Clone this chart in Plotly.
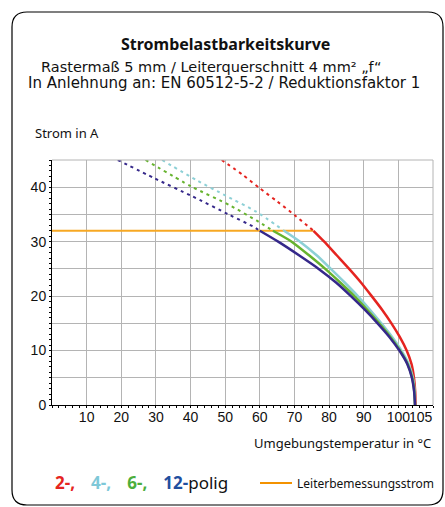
import plotly.graph_objects as go

# ---------------- data ----------------
# 2-polig (red): current vs ambient temperature
temp_2 = [49, 55, 60, 65, 70, 75.5, 78.6, 82.2, 85.8, 89.2, 92.3, 95.3, 98, 100.4, 102.4, 103.8, 104.5, 104.85, 105]
cur_2 = [45, 42.3, 39.8, 37.4, 34.9, 32, 30, 27.5, 25, 22.5, 20, 17.5, 15, 12.5, 10, 7.5, 5, 2.5, 0]

# 4-polig (light blue)
temp_4 = [31.8, 41.7, 50.3, 59, 67, 71.6, 76.4, 80.5, 84.5, 88.3, 91.8, 95.1, 98.2, 100.9, 103, 104.2, 104.7, 104.85]
cur_4 = [45, 41.3, 38.4, 35.5, 32, 30, 27.5, 25, 22.5, 20, 17.5, 15, 12.5, 10, 7.5, 5, 2.5, 0]

# 6-polig (green)
temp_6 = [27, 40.3, 51.3, 59, 63.8, 69.2, 74.2, 78.9, 83.2, 87.3, 91, 94.5, 97.7, 100.5, 102.7, 104, 104.6, 104.8]
cur_6 = [45, 40.1, 36.7, 33.9, 32, 30, 27.5, 25, 22.5, 20, 17.5, 15, 12.5, 10, 7.5, 5, 2.5, 0]

# 12-polig (dark blue)
temp_12 = [19, 29.7, 40.3, 51.3, 58, 60, 65.3, 71.3, 77, 82, 86.3, 90.3, 94, 97.4, 100.3, 102.6, 103.9, 104.55, 104.8]
cur_12 = [45, 41.6, 38.4, 34.9, 32.8, 32, 30, 27.5, 25, 22.5, 20, 17.5, 15, 12.5, 10, 7.5, 5, 2.5, 0]

rated_current = 32
rated_temp = [0, 75.5]

x_tick_vals = [10, 20, 30, 40, 50, 60, 70, 80, 90, 100]
x_tick_text = ["10", "20", "30", "40", "50", "60", "70", "80", "90", "100"]
x_end_val = [105]
x_end_text = ["105"]
y_tick_vals = [0, 10, 20, 30, 40]

series = [
    ("2-polig", temp_2, cur_2, "#e52420"),
    ("4-polig", temp_4, cur_4, "#8dd0d6"),
    ("6-polig", temp_6, cur_6, "#66b32e"),
    ("12-polig", temp_12, cur_12, "#35288a"),
]
orange = "#f7a823"

# ---------------- geometry ----------------
W, H = 445, 507
L, R, T, B = 52, 12, 160, 102
PW, PH = W - L - R, H - T - B


def px2x(px):
    return (px - L) / PW


def py2y(py):
    return (H - B - py) / PH


fig = go.Figure()

fig.add_trace(go.Scatter(x=rated_temp, y=[rated_current] * len(rated_temp), mode="lines",
                         line=dict(color=orange, width=2), showlegend=False, hoverinfo="skip"))

for name, tx, cy, col in series:
    dash_x = [t for t, c in zip(tx, cy) if c >= rated_current]
    dash_y = [c for c in cy if c >= rated_current]
    sol_x = [t for t, c in zip(tx, cy) if c <= rated_current]
    sol_y = [c for c in cy if c <= rated_current]
    fig.add_trace(go.Scatter(x=dash_x, y=dash_y, mode="lines", name=name,
                             line=dict(color=col, width=2, dash="3px,4px", shape="spline", smoothing=0.6),
                             showlegend=False))
    fig.add_trace(go.Scatter(x=sol_x, y=sol_y, mode="lines", name=name,
                             line=dict(color=col, width=2.5, shape="spline", smoothing=0.6),
                             showlegend=False))

# dummy traces for overlay axes
fig.add_trace(go.Scatter(x=[None], y=[None], xaxis="x2", yaxis="y", showlegend=False))
fig.add_trace(go.Scatter(x=[None], y=[None], xaxis="x3", yaxis="y", showlegend=False))
fig.add_trace(go.Scatter(x=[None], y=[None], xaxis="x", yaxis="y2", showlegend=False))

grid_col = "#b4b4b4"
tick_font = dict(family="Liberation Sans, Arial", size=14, color="#111")

fig.update_layout(
    width=W, height=H,
    margin=dict(l=L, r=R, t=T, b=B),
    paper_bgcolor="white", plot_bgcolor="white",
    font=dict(family="Noto Sans", color="#111"),
    xaxis=dict(range=[0, 110], tickmode="linear", tick0=0, dtick=10, showgrid=True,
               gridcolor=grid_col, gridwidth=1, showticklabels=False,
               ticks="outside", ticklen=2, tickcolor="black",
               minor=dict(tickmode="linear", tick0=0, dtick=2, ticks="outside", ticklen=2,
                          tickcolor="black", showgrid=False),
               showline=True, linecolor="black", linewidth=1, zeroline=False, fixedrange=True),
    xaxis2=dict(range=[0, 110], overlaying="x", anchor="y", side="bottom",
                tickmode="array", tickvals=x_tick_vals, ticktext=x_tick_text, tickangle=0,
                showgrid=False, ticks="", showline=False, zeroline=False,
                tickfont=tick_font, ticklabelstandoff=2),
    xaxis3=dict(range=[0, 110], overlaying="x", anchor="y", side="bottom",
                tickmode="array", tickvals=x_end_val, ticktext=x_end_text, tickangle=0,
                showgrid=False, ticks="", showline=False, zeroline=False,
                tickfont=tick_font, ticklabelstandoff=2, ticklabelshift=5),
    yaxis=dict(range=[0, 45], tickmode="array", tickvals=y_tick_vals, showgrid=True,
               gridcolor=grid_col, gridwidth=1, ticks="outside", ticklen=2, tickcolor="black",
               minor=dict(tickmode="linear", tick0=0, dtick=5, showgrid=True,
                          gridcolor=grid_col, gridwidth=1, ticks=""),
               showline=True, linecolor="black", linewidth=1, zeroline=False,
               tickfont=tick_font, fixedrange=True),
    yaxis2=dict(range=[0, 45], overlaying="y", anchor="x", side="left",
                tickmode="linear", tick0=0, dtick=1, ticks="outside", ticklen=2,
                tickcolor="black", showticklabels=False, showgrid=False,
                showline=False, zeroline=False),
)

# top/right gray border of grid
fig.add_shape(type="line", xref="paper", yref="paper", x0=0, x1=1, y0=1, y1=1,
              line=dict(color=grid_col, width=1))
fig.add_shape(type="line", xref="paper", yref="paper", x0=1, x1=1, y0=0, y1=1,
              line=dict(color=grid_col, width=1))

# rounded frame
x0p, x1p, y0p, y1p, r = 12, 443, 12, 505, 15
pts = lambda a, b: f"{px2x(a):.5f},{py2y(b):.5f}"
path = (f"M {pts(x0p + r, y0p)} L {pts(x1p - r, y0p)} Q {pts(x1p, y0p)} {pts(x1p, y0p + r)} "
        f"L {pts(x1p, y1p - r)} Q {pts(x1p, y1p)} {pts(x1p - r, y1p)} "
        f"L {pts(x0p + r, y1p)} Q {pts(x0p, y1p)} {pts(x0p, y1p - r)} "
        f"L {pts(x0p, y0p + r)} Q {pts(x0p, y0p)} {pts(x0p + r, y0p)} Z")
fig.add_shape(type="path", xref="paper", yref="paper", path=path,
              line=dict(color="black", width=1.2), layer="below")

# legend line
fig.add_shape(type="line", xref="paper", yref="paper", x0=px2x(260), x1=px2x(292),
              y0=py2y(483), y1=py2y(483), line=dict(color="#f39200", width=2))


def ann(text, px, py, size, xanchor="center", family="Noto Sans", color="#111"):
    fig.add_annotation(text=text, x=px2x(px), y=py2y(py), xref="paper", yref="paper",
                       xanchor=xanchor, yanchor="middle", showarrow=False,
                       font=dict(size=size, family=family, color=color))


ann("<b>Strombelastbarkeitskurve</b>", 225, 44, 16)
ann("Rastermaß 5 mm / Leiterquerschnitt 4 mm² „f“", 211, 67, 14.5, family="DejaVu Sans")
ann("In Anlehnung an: EN 60512-5-2 / Reduktionsfaktor 1", 224, 83, 15, family="DejaVu Sans")
ann("Strom in A", 33, 133, 13, xanchor="left")
ann("Umgebungstemperatur in °C", 433, 443, 13, xanchor="right")
ann("Leiterbemessungsstrom", 295, 483, 12, xanchor="left")

sp = "\u00a0\u00a0\u00a0\u2009"
legend_txt = (f"<b><span style='color:#e52420'>2-,</span></b>{sp}"
              f"<b><span style='color:#7ec8d8'>4-,</span></b>{sp}"
              f"<b><span style='color:#4cae3c'>6-,</span></b>{sp}"
              f"<b><span style='color:#1f4f9f'>12-</span></b>polig")
ann(legend_txt, 53, 482, 17, xanchor="left")

fig.write_html("out.html", config={"displayModeBar": False},
               post_script="document.body.style.margin='0px';document.body.style.overflow='hidden';")
